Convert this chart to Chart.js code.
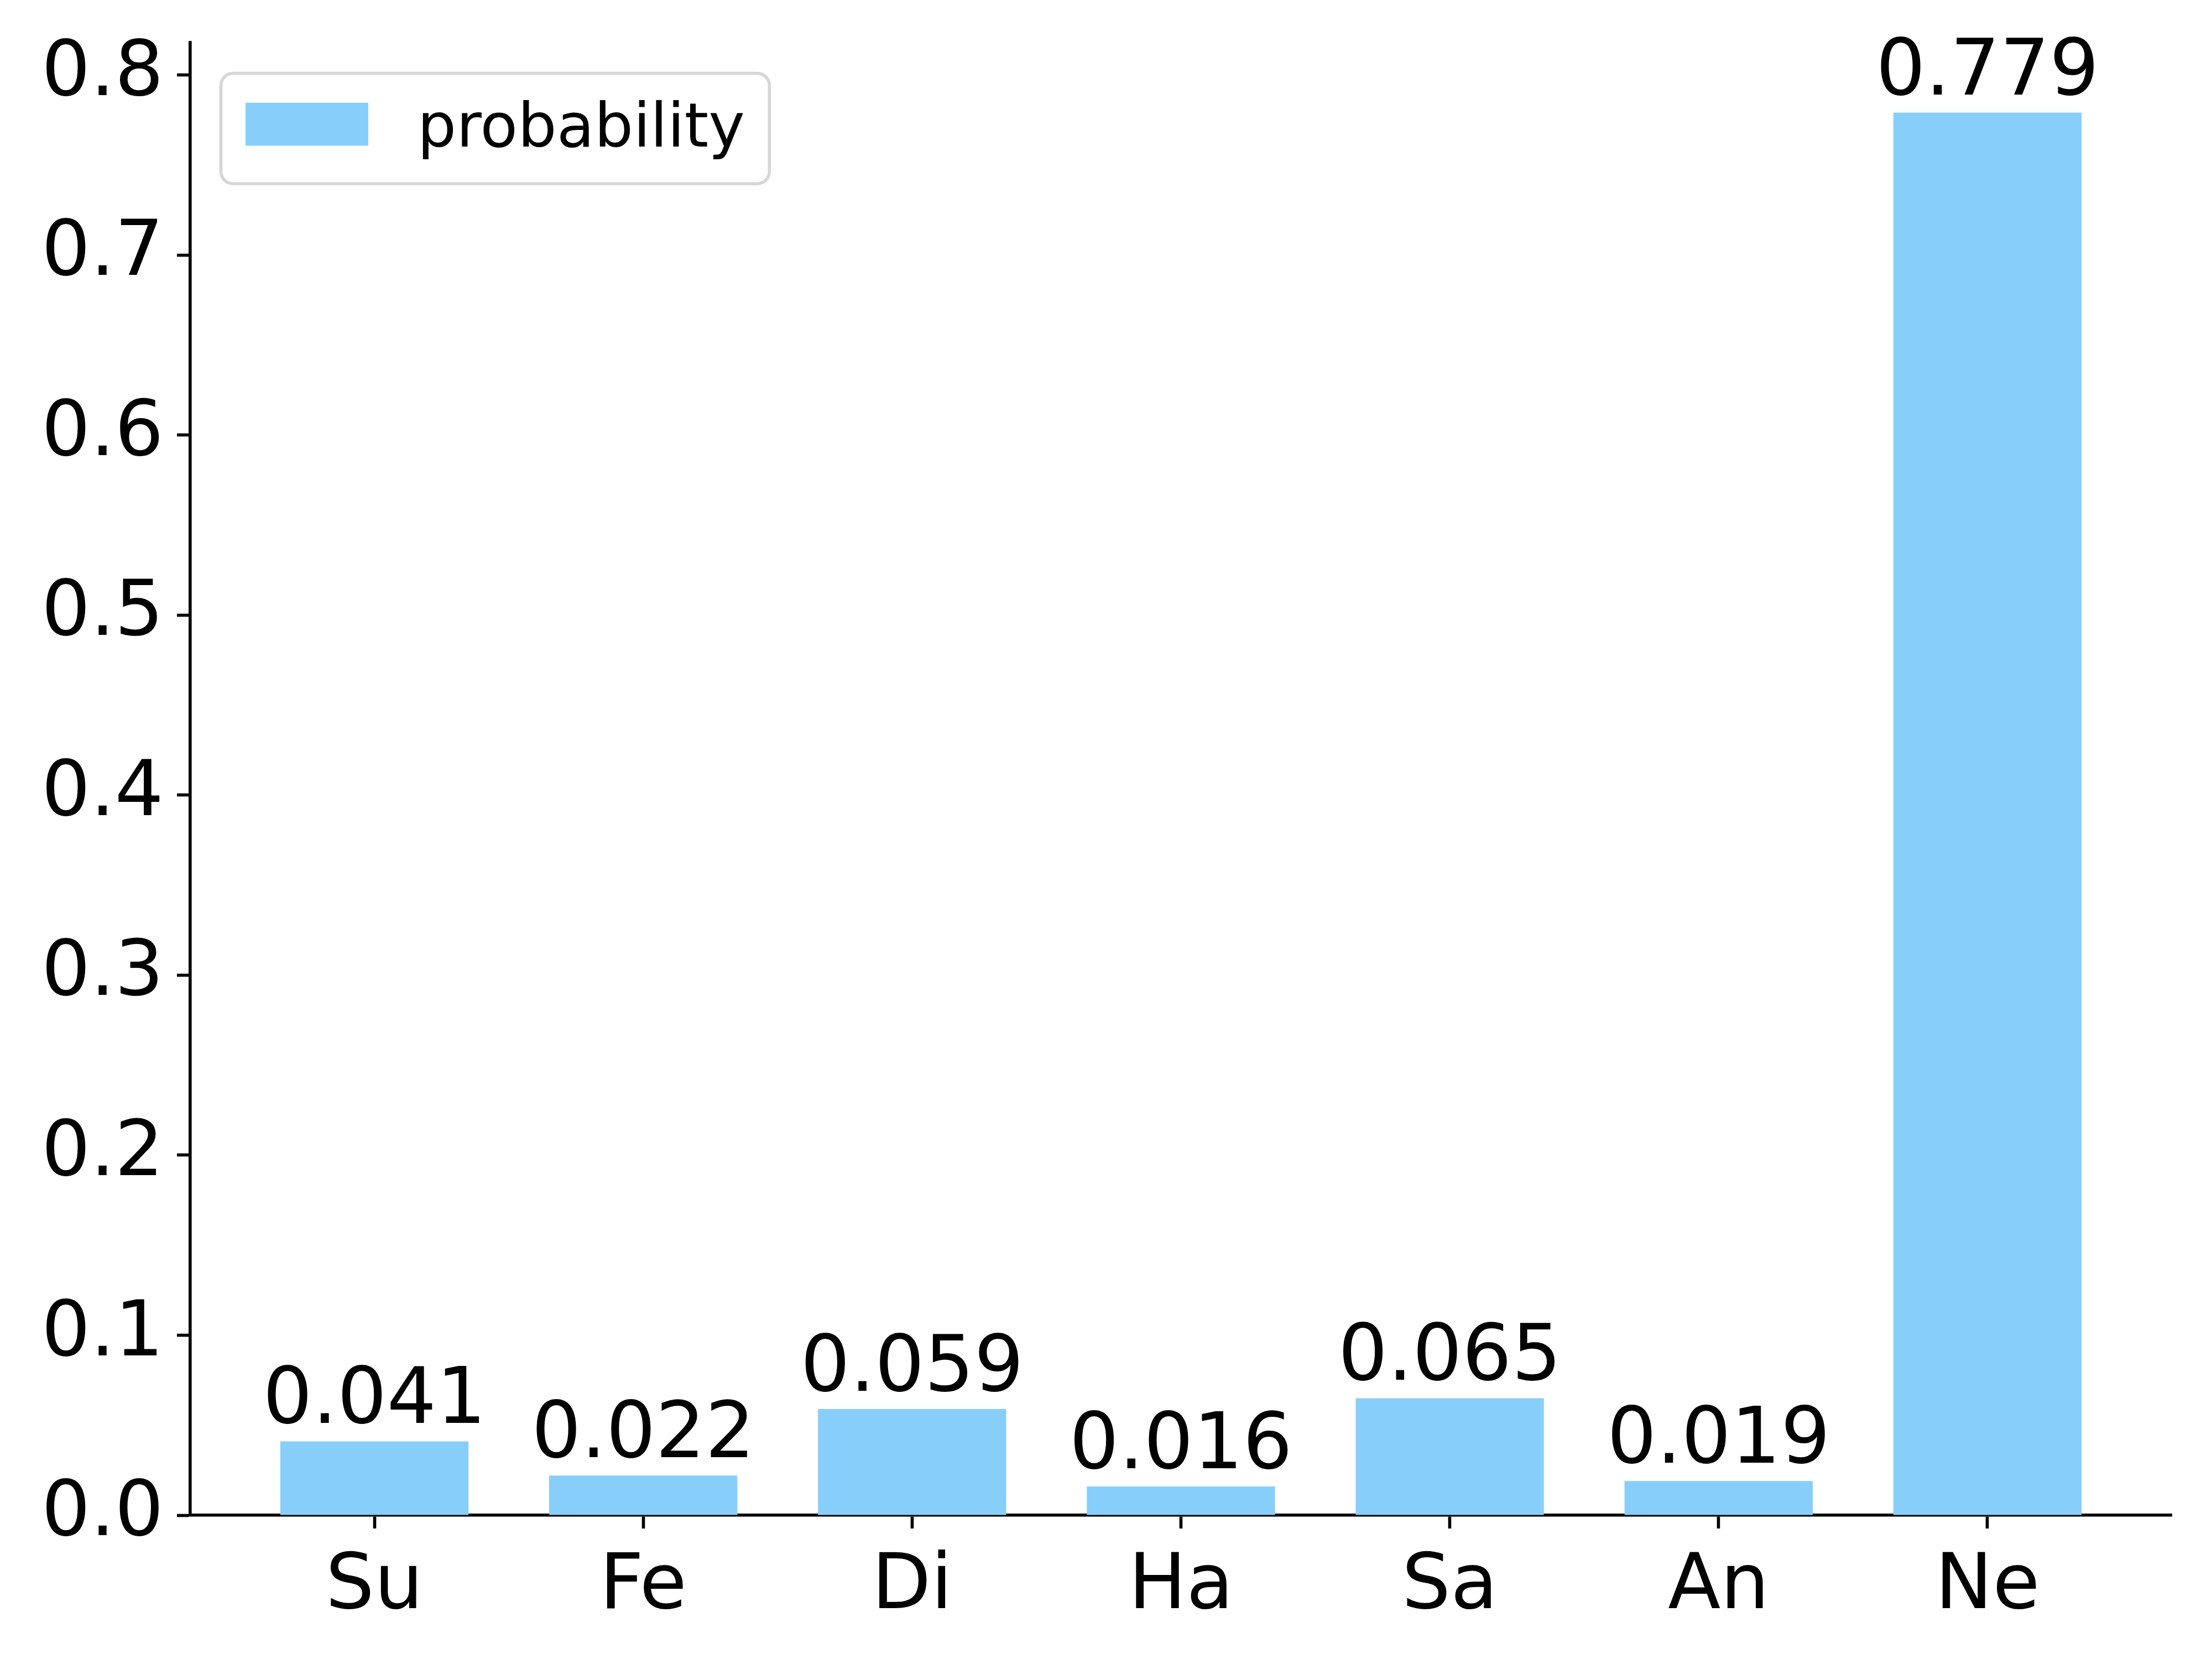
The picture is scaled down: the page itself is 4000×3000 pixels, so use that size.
<!DOCTYPE html>
<html><head><meta charset="utf-8">
<script src="https://cdn.jsdelivr.net/npm/chart.js@4/dist/chart.umd.min.js"></script>
<style>html,body{margin:0;padding:0;background:#fff}#wrap{width:4000px;height:3000px}</style>
</head><body><div id="wrap"><canvas id="c" width="4000" height="3000"></canvas></div>
<script>
const categories = ['Su', 'Fe', 'Di', 'Ha', 'Sa', 'An', 'Ne'];
const probability = [0.041, 0.022, 0.059, 0.016, 0.065, 0.019, 0.779];
const yTicks = [0.0, 0.1, 0.2, 0.3, 0.4, 0.5, 0.6, 0.7, 0.8];
const seriesLabel = 'probability';

const FONT = 'DejaVu Sans';
const TICK_FS = 139, LEG_FS = 111, VAL_FS = 141;
const LW = 5.6, TICKLEN = 24, PAD = 24;
const BAR_W = 0.7;
const barColor = '#87CEFA';
const xMargin = 0.05 * (categories.length - 1 + BAR_W);
const xMin = -BAR_W / 2 - xMargin, xMax = categories.length - 1 + BAR_W / 2 + xMargin;
const yMax = Math.max(...probability) * 1.05;

const valueLabels = {
  id: 'valueLabels',
  afterDatasetsDraw(chart) {
    const ctx = chart.ctx;
    const meta = chart.getDatasetMeta(0);
    ctx.save();
    ctx.font = VAL_FS + 'px "' + FONT + '"';
    ctx.fillStyle = '#000';
    ctx.textAlign = 'center';
    ctx.textBaseline = 'alphabetic';
    meta.data.forEach((el, i) => {
      ctx.fillText(probability[i].toFixed(3), el.x, el.y - 0.236 * VAL_FS);
    });
    ctx.restore();
  }
};

const boxLegend = {
  id: 'boxLegend',
  afterDraw(chart) {
    const ctx = chart.ctx, a = chart.chartArea, fs = LEG_FS;
    const ds = chart.data.datasets[0];
    ctx.save();
    ctx.font = fs + 'px "' + FONT + '"';
    const tw = ctx.measureText(ds.label).width;
    const x0 = a.left + 0.5 * fs, y0 = a.top + 0.5 * fs;
    const w = 3.6 * fs + tw, h = 1.8 * fs, r = 0.2 * fs;
    ctx.beginPath();
    ctx.roundRect(x0, y0, w, h, r);
    ctx.fillStyle = 'rgba(255,255,255,0.8)';
    ctx.fill();
    ctx.lineWidth = LW;
    ctx.strokeStyle = '#d6d6d6';
    ctx.stroke();
    ctx.fillStyle = ds.backgroundColor;
    ctx.fillRect(x0 + 0.4 * fs, y0 + 0.48 * fs, 2.0 * fs, 0.7 * fs);
    ctx.fillStyle = '#000';
    ctx.textBaseline = 'alphabetic';
    ctx.textAlign = 'left';
    ctx.fillText(ds.label, x0 + 3.2 * fs, y0 + 1.19 * fs);
    ctx.restore();
  }
};

new Chart(document.getElementById('c'), {
  type: 'bar',
  data: {
    datasets: [{
      label: seriesLabel,
      data: probability.map((v, i) => ({ x: i, y: v })),
      backgroundColor: barColor,
      borderWidth: 0,
      barPercentage: BAR_W,
      categoryPercentage: 1.0
    }]
  },
  options: {
    responsive: false,
    devicePixelRatio: 1,
    animation: false,
    layout: { padding: { top: 77, right: 73, left: 0, bottom: 0 } },
    plugins: { legend: { display: false }, tooltip: { enabled: false } },
    scales: {
      x: {
        type: 'linear',
        min: xMin, max: xMax,
        offset: false,
        afterFit: s => { s.height = 260; s.paddingLeft = 0; s.paddingRight = 0; },
        afterBuildTicks: s => { s.ticks = categories.map((c, i) => ({ value: i })); },
        grid: { offset: false, drawOnChartArea: false, drawTicks: true, tickLength: TICKLEN, tickWidth: LW, tickColor: '#000' },
        border: { display: true, color: '#000', width: LW },
        ticks: {
          callback: v => categories[v],
          font: { family: FONT, size: TICK_FS },
          color: '#000',
          padding: PAD,
          maxRotation: 0, autoSkip: false
        }
      },
      y: {
        type: 'linear',
        min: 0, max: yMax,
        afterFit: s => { s.width = 344; s.paddingTop = 0; s.paddingBottom = 0; },
        afterBuildTicks: s => { s.ticks = yTicks.map(v => ({ value: v })); },
        grid: { drawOnChartArea: false, drawTicks: true, tickLength: TICKLEN, tickWidth: LW, tickColor: '#000' },
        border: { display: true, color: '#000', width: LW },
        ticks: {
          callback: v => Number(v).toFixed(1),
          font: { family: FONT, size: TICK_FS },
          color: '#000',
          padding: PAD
        }
      }
    }
  },
  plugins: [valueLabels, boxLegend]
});
</script>
</body></html>
